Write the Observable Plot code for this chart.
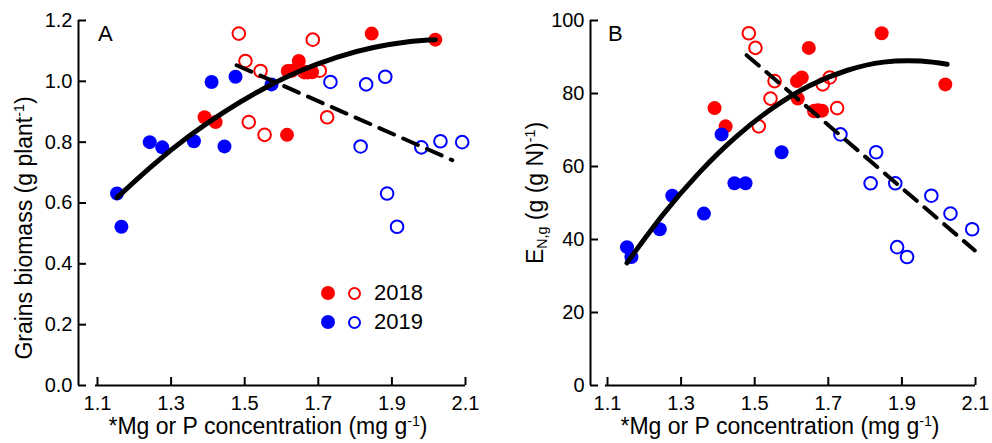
<!DOCTYPE html>
<html>
<head>
<meta charset="utf-8">
<script src="https://cdn.jsdelivr.net/npm/d3@7"></script>
<script src="https://cdn.jsdelivr.net/npm/@observablehq/plot@0.6"></script>
<style>
  body { margin: 0; background: #fff; font-family: "Liberation Sans", Arial, sans-serif; }
  #wrap { position: relative; width: 992px; height: 443px; overflow: hidden; background: #fff; }
  .panel { position: absolute; top: 0; }
  .txt { position: absolute; color: #000; white-space: nowrap; line-height: 1; font-size: 23px; }
  .rot { transform: translate(-50%, -50%) rotate(-90deg); }
  .hc { transform: translateX(-50%); }
  sup { font-size: 0.62em; vertical-align: 0.55em; line-height: 0; }
  sub { font-size: 0.62em; vertical-align: -0.3em; line-height: 0; }
  .dot { position: absolute; width: 14px; height: 14px; border-radius: 50%; box-sizing: border-box; }
</style>
</head>
<body>
<div id="wrap"></div>
<script>
// ---- Data ----
const xTicks = [1.1, 1.3, 1.5, 1.7, 1.9, 2.1];
const bioTicks = [0, 0.2, 0.4, 0.6, 0.8, 1.0, 1.2];
const engTicks = [0, 20, 40, 60, 80, 100];
const years = ["2018", "2019"];
const yearColors = ["#ff0000", "#0000ff"];

// 2018 samples: Mg (filled) and P (open) concentrations
const mg2018  = [1.391, 1.421, 1.615, 1.617, 1.647, 1.845, 2.018, 1.668, 1.628, 1.683];
const p2018   = [1.724, 1.511, 1.554, 1.543, 1.502, 1.484, 1.685, 1.662, 1.704, 1.672];
const bio2018 = [0.882, 0.866, 0.824, 1.034, 1.067, 1.157, 1.137, 1.030, 1.035, 1.030];
const eng2018 = [76.0, 71.0, 83.4, 78.6, 92.5, 96.5, 82.5, 75.2, 84.4, 75.3];

// 2019 samples
const mg2019  = [1.153, 1.165, 1.242, 1.276, 1.362, 1.410, 1.445, 1.475, 1.573];
const p2019   = [1.887, 1.914, 2.091, 1.980, 2.032, 1.733, 1.815, 1.882, 1.830];
const bio2019 = [0.631, 0.522, 0.800, 0.783, 0.803, 0.998, 0.786, 1.015, 0.990];
const eng2019 = [37.9, 35.2, 42.8, 52.0, 47.1, 68.8, 55.4, 55.4, 63.9];

// fitted curves
const fitBioX = [1.153, 1.25, 1.35, 1.45, 1.55, 1.65, 1.75, 1.85, 1.95, 2.018];
const fitBioY = [0.618, 0.724, 0.821, 0.904, 0.975, 1.034, 1.079, 1.111, 1.131, 1.137];
const fitEngX = [1.153, 1.25, 1.35, 1.45, 1.55, 1.65, 1.75, 1.85, 1.95, 2.023];
const fitEngY = [33.6, 46.7, 58.4, 68.2, 76.1, 82.2, 86.3, 88.6, 88.9, 88.0];
const lineBioX = [1.478, 2.064];
const lineBioY = [1.053, 0.741];
const lineEngX = [1.478, 2.098];
const lineEngY = [90.5, 37.0];

// ---- build tables ----
function rows(xs, ys) { return xs.map((x, i) => ({x, y: ys[i]})); }

function panel({ml, mr, gap, yTicks, yFmt, yDomain, mgs, ps, vals, fitX, fitY, lnX, lnY}) {
  const W = 496, H = 443, mt = 20, mb = 58;
  const kx = (W - ml - mr - gap) / (xTicks[xTicks.length - 1] - xTicks[0]);
  const xmin = xTicks[0] - gap / kx;
  const xmax = xTicks[xTicks.length - 1];
  const ky = (H - mt - mb) / (yDomain[1] - yDomain[0]);
  const tx = 8 / kx, ty = 8 / ky;
  const marks = [
    Plot.ruleX([xmin], {y1: yDomain[0], y2: yDomain[1], strokeWidth: 2}),
    Plot.ruleY([yDomain[0]], {x1: xTicks[0] - 2 / kx, x2: xmax, strokeWidth: 2}),
    Plot.ruleY(yTicks, {x1: xmin, x2: xmin + tx, strokeWidth: 2}),
    Plot.ruleX(xTicks, {y1: yDomain[0], y2: yDomain[0] + ty, strokeWidth: 2}),
    Plot.axisY(yTicks, {tickSize: 0, tickPadding: 6, tickFormat: yFmt, label: null}),
    Plot.axisX(xTicks, {tickSize: 0, tickPadding: 10, tickFormat: d3.format(".1f"), label: null})
  ];
  years.forEach((yr, k) => {
    marks.push(Plot.dot(rows(mgs[k], vals[k]), {x: "x", y: "y", r: 7, fill: yearColors[k], stroke: "none"}));
    marks.push(Plot.dot(rows(ps[k], vals[k]), {x: "x", y: "y", r: 6.3, fill: "none", stroke: yearColors[k], strokeWidth: 2}));
  });
  marks.push(Plot.line(rows(fitX, fitY), {x: "x", y: "y", curve: "natural", strokeWidth: 5, stroke: "#000"}));
  marks.push(Plot.line(rows(lnX, lnY), {x: "x", y: "y", strokeWidth: 4, stroke: "#000", strokeDasharray: "16,10"}));
  return Plot.plot({
    width: W, height: H,
    marginLeft: ml, marginRight: mr, marginTop: mt, marginBottom: mb,
    x: {domain: [xmin, xmax], label: null},
    y: {domain: yDomain, label: null},
    style: {fontSize: "20px", fontFamily: "'Liberation Sans', Arial, sans-serif", color: "#000", background: "transparent", overflow: "visible"},
    marks
  });
}

const wrap = document.getElementById("wrap");

const pA = panel({ml: 78, mr: 31, gap: 19, yTicks: bioTicks, yFmt: d3.format(".1f"), yDomain: [0, 1.2],
  mgs: [mg2018, mg2019], ps: [p2018, p2019], vals: [bio2018, bio2019],
  fitX: fitBioX, fitY: fitBioY, lnX: lineBioX, lnY: lineBioY});
const pB = panel({ml: 94, mr: 17, gap: 17, yTicks: engTicks, yFmt: d3.format("d"), yDomain: [0, 100],
  mgs: [mg2018, mg2019], ps: [p2018, p2019], vals: [eng2018, eng2019],
  fitX: fitEngX, fitY: fitEngY, lnX: lineEngX, lnY: lineEngY});

const dA = document.createElement("div"); dA.className = "panel"; dA.style.left = "0px"; dA.appendChild(pA);
const dB = document.createElement("div"); dB.className = "panel"; dB.style.left = "496px"; dB.appendChild(pB);
wrap.appendChild(dA); wrap.appendChild(dB);

function addText(html, css, cls) {
  const d = document.createElement("div");
  d.className = "txt " + (cls || "");
  d.innerHTML = html;
  Object.assign(d.style, css);
  wrap.appendChild(d);
  return d;
}
// panel letters
addText("A", {left: "98px", top: "23px", fontSize: "22px"});
addText("B", {left: "608px", top: "23px", fontSize: "22px"});
// x titles
addText("*Mg or P concentration (mg g<sup>-1</sup>)", {left: "268px", top: "415px"}, "hc");
addText("*Mg or P concentration (mg g<sup>-1</sup>)", {left: "780px", top: "415px"}, "hc");
// y titles
addText("Grains biomass (g plant<sup>-1</sup>)", {left: "24px", top: "228px"}, "rot");
addText("E<sub>N,g</sub> (g (g N)<sup>-1</sup>)", {left: "535px", top: "193px"}, "rot");

// legend
years.forEach((yr, k) => {
  const cy = 293 + k * 29;
  const f = document.createElement("div"); f.className = "dot";
  Object.assign(f.style, {left: (328 - 7) + "px", top: (cy - 7) + "px", background: yearColors[k]});
  const o = document.createElement("div"); o.className = "dot";
  Object.assign(o.style, {left: (354 - 6.5) + "px", top: (cy - 6.5) + "px", width: "13px", height: "13px", border: "2px solid " + yearColors[k]});
  wrap.appendChild(f); wrap.appendChild(o);
  addText(yr, {left: "374px", top: (cy - 11) + "px", fontSize: "22px"});
});
</script>
</body>
</html>
